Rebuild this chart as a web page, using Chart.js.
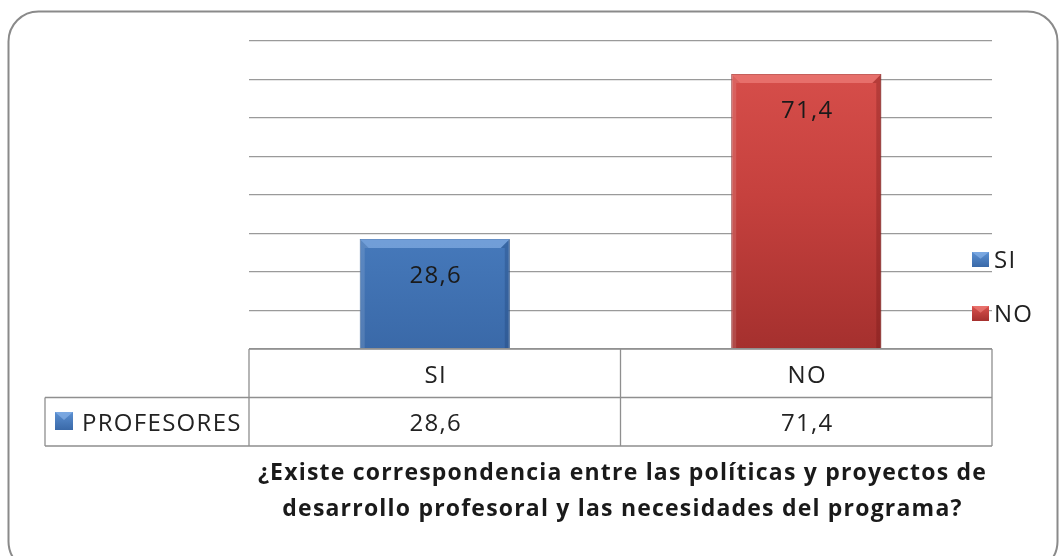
<!DOCTYPE html>
<html>
<head>
<meta charset="utf-8">
<script src="https://cdn.jsdelivr.net/npm/chart.js@4.4.0/dist/chart.umd.min.js"></script>
<style>
html,body{margin:0;padding:0;background:#fff;}
#wrap{width:1060px;height:556px;position:relative;}
</style>
</head>
<body>
<div id="wrap"><canvas id="c" width="1060" height="556"></canvas></div>
<script>
const categories = ['SI', 'NO'];
const seriesName = 'PROFESORES';
const values = [28.6, 71.4];
const valueLabels = ['28,6', '71,4'];
const titleLines = ['¿Existe correspondencia entre las políticas y proyectos de', 'desarrollo profesoral y las necesidades del programa?'];
const yMin = 0, yMax = 80, yStep = 10;

const FONT = '"Open Sans", Lato, sans-serif';
const colors = [
  {top:'#5b90d2', mid:'#4a7fc2', bot:'#3a69a8', edge:'#2f5a92', light:'rgba(150,190,240,0.55)', dark:'rgba(20,50,100,0.25)'},
  {top:'#da514d', mid:'#c6413e', bot:'#a5302e', edge:'#8c2826', light:'rgba(245,140,135,0.55)', dark:'rgba(90,10,10,0.25)'}
];

function roundRect(ctx,x,y,w,h,r){
  ctx.beginPath();
  ctx.moveTo(x+r,y);ctx.lineTo(x+w-r,y);ctx.arcTo(x+w,y,x+w,y+r,r);
  ctx.lineTo(x+w,y+h-r);ctx.arcTo(x+w,y+h,x+w-r,y+h,r);
  ctx.lineTo(x+r,y+h);ctx.arcTo(x,y+h,x,y+h-r,r);
  ctx.lineTo(x,y+r);ctx.arcTo(x,y,x+r,y,r);ctx.closePath();
}

function setSpacing(ctx, px){ if('letterSpacing' in ctx) ctx.letterSpacing = px+'px'; }

function drawKey(ctx, x, y, w, h, c){
  const g = ctx.createLinearGradient(0,y,0,y+h);
  g.addColorStop(0,c.top);g.addColorStop(1,c.bot);
  ctx.fillStyle=g;ctx.fillRect(x,y,w,h);
  // bevel on top
  ctx.fillStyle=c.light;
  ctx.beginPath();ctx.moveTo(x,y);ctx.lineTo(x+w,y);ctx.lineTo(x+w/2,y+h*0.45);ctx.closePath();ctx.fill();
}

const decor = {
  id:'decor',
  beforeDraw(chart){
    const ctx = chart.ctx;
    ctx.save();
    ctx.fillStyle='#fff';ctx.fillRect(0,0,chart.width,chart.height);
    roundRect(ctx,8.5,11.5,1049,560,30);
    ctx.strokeStyle='#8a8a8a';ctx.lineWidth=2;ctx.stroke();
    ctx.restore();
  },
  afterDatasetsDraw(chart){
    const ctx = chart.ctx;
    const meta = chart.getDatasetMeta(0);
    ctx.save();
    // bevel effect on bars
    meta.data.forEach((bar,i)=>{
      const c = colors[i];
      const l = bar.x - bar.width/2, r = bar.x + bar.width/2, t = bar.y, b = bar.base;
      const d = 9;
      ctx.fillStyle=c.light;
      ctx.beginPath();ctx.moveTo(l,t);ctx.lineTo(r,t);ctx.lineTo(r-d,t+d);ctx.lineTo(l+d,t+d);ctx.closePath();ctx.fill();
      ctx.fillStyle=c.dark;
      ctx.beginPath();ctx.moveTo(r,t);ctx.lineTo(r,b);ctx.lineTo(r-5,b);ctx.lineTo(r-5,t+d);ctx.lineTo(r-d,t+d);ctx.closePath();ctx.fill();
      ctx.fillStyle='rgba(255,255,255,0.12)';
      ctx.beginPath();ctx.moveTo(l,t);ctx.lineTo(l+d,t+d);ctx.lineTo(l+5,t+d);ctx.lineTo(l+5,b);ctx.lineTo(l,b);ctx.closePath();ctx.fill();
    });
    // value labels inside bars
    ctx.fillStyle='#1a1a1a';ctx.font='24px '+FONT;ctx.textAlign='center';ctx.textBaseline='alphabetic';
    setSpacing(ctx,1.3);
    meta.data.forEach((bar,i)=>{ ctx.fillText(valueLabels[i], bar.x+1, bar.y+44); });
    // data table
    const ca = chart.chartArea;
    const xs = chart.scales.x;
    const rowH = 48.5;
    const top = ca.bottom, left = ca.left, right = ca.right;
    const tabLeft = 45;
    ctx.strokeStyle='#8f8f8f';ctx.lineWidth=1.3;
    ctx.beginPath();
    ctx.moveTo(left,top);ctx.lineTo(right,top);
    ctx.moveTo(tabLeft,top+rowH);ctx.lineTo(right,top+rowH);
    ctx.moveTo(tabLeft,top+2*rowH);ctx.lineTo(right,top+2*rowH);
    ctx.moveTo(left,top);ctx.lineTo(left,top+2*rowH);
    ctx.moveTo(tabLeft,top+rowH);ctx.lineTo(tabLeft,top+2*rowH);
    const mid = (left+right)/2;
    ctx.moveTo(mid,top);ctx.lineTo(mid,top+2*rowH);
    ctx.moveTo(right,top);ctx.lineTo(right,top+2*rowH);
    ctx.stroke();
    ctx.fillStyle='#222';ctx.font='24px '+FONT;
    categories.forEach((c,i)=>{
      const x = xs.getPixelForValue(i);
      ctx.fillText(c, x+1, top+34);
      ctx.fillText(valueLabels[i], x+1, top+82);
    });
    // series label with key
    drawKey(ctx, 55, top+63, 18, 18, colors[0]);
    ctx.fillStyle='#222';ctx.textAlign='left';
    ctx.fillText(seriesName, 82, top+82);
    // legend
    const legBase = [268, 322];
    categories.forEach((c,i)=>{
      drawKey(ctx, 972, legBase[i]-16, 17, 15, colors[i]);
      ctx.fillStyle='#222';ctx.textAlign='left';ctx.font='24px '+FONT;
      ctx.fillText(c, 994, legBase[i]);
    });
    // title
    ctx.fillStyle='#1a1a1a';ctx.textAlign='center';ctx.font='bold 23px '+FONT;
    setSpacing(ctx,1.2);
    ctx.fillText(titleLines[0], mid+2, 480);
    ctx.fillText(titleLines[1], mid+2, 516);
    ctx.restore();
  }
};

function barFill(ctx){
  const chart = ctx.chart;
  const i = ctx.dataIndex;
  const ca = chart.chartArea;
  if(!ca) return colors[i].mid;
  const el = ctx.element;
  const topY = el && el.y!==undefined ? el.y : ca.top;
  const g = chart.ctx.createLinearGradient(0, topY, 0, ca.bottom);
  g.addColorStop(0, colors[i].top);
  g.addColorStop(0.5, colors[i].mid);
  g.addColorStop(1, colors[i].bot);
  return g;
}

new Chart(document.getElementById('c'), {
  type:'bar',
  data:{
    labels:categories,
    datasets:[{
      label:seriesName,
      data:values,
      backgroundColor:(ctx)=>barFill(ctx),
      borderColor:(ctx)=>colors[ctx.dataIndex].edge,
      borderWidth:1,
      barPercentage:0.404,
      categoryPercentage:1
    }]
  },
  options:{
    responsive:false,
    animation:false,
    devicePixelRatio:1,
    layout:{padding:{left:249,right:68,top:41,bottom:207}},
    plugins:{legend:{display:false},tooltip:{enabled:false}},
    scales:{
      x:{display:false},
      y:{
        display:true,min:yMin,max:yMax,
        ticks:{display:false,stepSize:yStep},
        border:{display:false},
        grid:{color:'#9a9a9a',lineWidth:1.3,drawTicks:false}
      }
    }
  },
  plugins:[decor]
});
</script>
</body>
</html>
